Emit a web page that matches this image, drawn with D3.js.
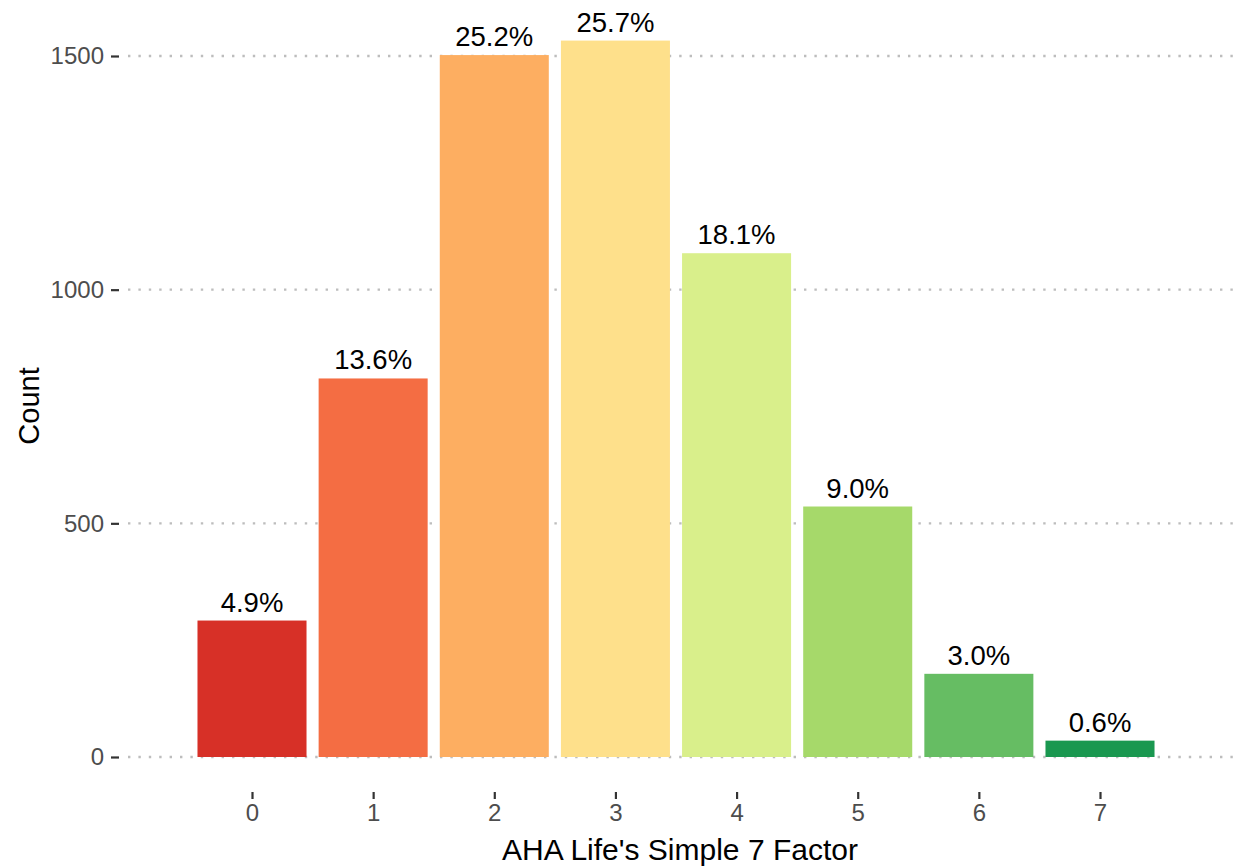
<!DOCTYPE html>
<html>
<head>
<meta charset="utf-8">
<script src="https://cdn.jsdelivr.net/npm/d3@7"></script>
<style>
  body { margin: 0; background: #fff; }
  svg { display: block; font-family: "Liberation Sans", Arial, sans-serif; }
</style>
</head>
<body>
<div class="chart"></div>
<script>
// ============================================================================
// Data
// ============================================================================

var factors = [0, 1, 2, 3, 4, 5, 6, 7];
var counts = [292, 810, 1502, 1533, 1078, 536, 178, 35];
var pctLabels = ['4.9%', '13.6%', '25.2%', '25.7%', '18.1%', '9.0%', '3.0%', '0.6%'];
var barColors = ['#d73027', '#f46d43', '#fdae61', '#fee08b', '#d9ef8b', '#a6d96a', '#66bd63', '#1a9850'];
var yTicks = [0, 500, 1000, 1500];

// ============================================================================
// Create SVG
// ============================================================================

var svgWidth = 1238;
var svgHeight = 867;

var svg = d3.select('.chart')
  .append('svg')
  .attr('width', svgWidth)
  .attr('height', svgHeight);

// panel edges (grid lines run across this)
var panelLeft = 128;
var panelRight = 1236;

// scales
var xScale = d3.scaleLinear()
  .domain([0, 7])
  .range([252, 1100]);

var yScale = d3.scaleLinear()
  .domain([0, 1500])
  .range([757, 56]);

var barHalf = (xScale(1) - xScale(0)) * 0.45;

// grid lines
svg.append('g')
  .selectAll('line')
  .data(yTicks)
  .enter()
    .append('line')
    .attr('x1', panelLeft)
    .attr('x2', panelRight)
    .attr('y1', d => yScale(d))
    .attr('y2', d => yScale(d))
    .attr('stroke', '#bdbdbd')
    .attr('stroke-width', 2.4)
    .attr('stroke-dasharray', '2.4 8');

// bars
svg.append('g')
  .selectAll('rect')
  .data(factors)
  .enter()
    .append('rect')
    .attr('x', (d, i) => xScale(d) - barHalf)
    .attr('width', barHalf * 2)
    .attr('y', (d, i) => yScale(counts[i]))
    .attr('height', (d, i) => yScale(0) - yScale(counts[i]))
    .attr('fill', (d, i) => barColors[i]);

// percent labels
svg.append('g')
  .selectAll('text')
  .data(factors)
  .enter()
    .append('text')
    .attr('x', d => xScale(d))
    .attr('y', (d, i) => yScale(counts[i]) - 9)
    .attr('text-anchor', 'middle')
    .attr('font-size', 27.5)
    .attr('fill', '#000')
    .text((d, i) => pctLabels[i]);

// y axis
var yAxis = d3.axisLeft(yScale)
  .tickValues(yTicks)
  .tickFormat(d3.format('d'))
  .tickSize(8)
  .tickPadding(7);

var yAxisG = svg.append('g')
  .attr('transform', 'translate(119, 0)')
  .call(yAxis);

yAxisG.select('.domain').remove();
yAxisG.selectAll('line').attr('stroke', '#333').attr('stroke-width', 2.2);
yAxisG.selectAll('text')
  .attr('font-size', 24)
  .attr('fill', '#4d4d4d')
  .attr('font-family', '"Liberation Sans", Arial, sans-serif');

// x axis
var xAxis = d3.axisBottom(xScale)
  .tickValues(factors)
  .tickFormat(d3.format('d'))
  .tickSize(7)
  .tickPadding(5);

var xAxisG = svg.append('g')
  .attr('transform', 'translate(0, 792)')
  .call(xAxis);

xAxisG.select('.domain').remove();
xAxisG.selectAll('line').attr('stroke', '#333').attr('stroke-width', 2.2);
xAxisG.selectAll('text')
  .attr('font-size', 24)
  .attr('fill', '#4d4d4d')
  .attr('font-family', '"Liberation Sans", Arial, sans-serif');

// axis titles
svg.append('text')
  .attr('x', (panelLeft + panelRight) / 2 - 2)
  .attr('y', 860)
  .attr('text-anchor', 'middle')
  .attr('font-size', 30)
  .attr('fill', '#000')
  .text("AHA Life's Simple 7 Factor");

svg.append('text')
  .attr('transform', 'translate(39, 406) rotate(-90)')
  .attr('text-anchor', 'middle')
  .attr('font-size', 29)
  .attr('fill', '#000')
  .text('Count');
</script>
</body>
</html>
